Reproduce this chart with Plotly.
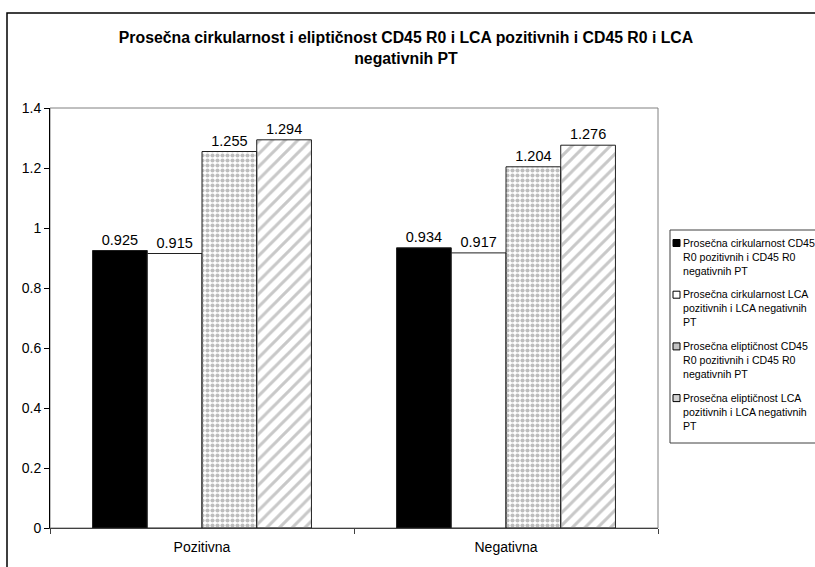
import plotly.graph_objects as go

categories = ["Pozitivna", "Negativna"]
series_names = [
    "Prosečna cirkularnost CD45<br>R0 pozitivnih i CD45 R0<br>negativnih PT",
    "Prosečna cirkularnost LCA<br>pozitivnih i LCA negativnih<br>PT",
    "Prosečna eliptičnost CD45<br>R0 pozitivnih i CD45 R0<br>negativnih PT",
    "Prosečna eliptičnost LCA<br>pozitivnih i LCA negativnih<br>PT",
]
circ_cd45 = [0.925, 0.934]
circ_lca = [0.915, 0.917]
elip_cd45 = [1.255, 1.204]
elip_lca = [1.294, 1.276]
series_values = [circ_cd45, circ_lca, elip_cd45, elip_lca]
y_ticks = [0, 0.2, 0.4, 0.6, 0.8, 1, 1.2, 1.4]
y_tick_labels = ["0", "0.2", "0.4", "0.6", "0.8", "1", "1.2", "1.4"]
title_text = ("Prosečna cirkularnost i eliptičnost CD45 R0 i LCA pozitivnih i CD45 R0 i LCA"
              "<br>negativnih PT")

styles = [
    dict(color="#000000", swatch="#000000", pattern=dict(shape="")),
    dict(color="#ffffff", swatch="#ffffff", pattern=dict(shape="")),
    dict(color="#ffffff", swatch="#c4c4c4",
         pattern=dict(shape=".", fgcolor="#bdbdbd", size=5, solidity=0.55, fillmode="replace")),
    dict(color="#ffffff", swatch="#d2d2d2",
         pattern=dict(shape="/", fgcolor="#c8c8c8", size=9, solidity=0.33, fillmode="replace")),
]

fig = go.Figure()
for i, (name, vals) in enumerate(zip(series_names, series_values)):
    st = styles[i]
    fig.add_trace(go.Bar(
        x=categories, y=vals, name=name.replace("<br>", " "),
        text=[f"{v:.3f}" for v in vals],
        textposition="outside",
        textfont=dict(size=14.5, color="#000000", family="Liberation Sans, Arial"),
        cliponaxis=False,
        showlegend=False,
        marker=dict(color=st["color"], line=dict(color="#202020", width=1),
                    pattern=st["pattern"]),
    ))

W, H = 815, 567
L, R, T, B = 50, 157, 108, 39
pw, ph = W - L - R, H - T - B

def px(x):
    return (x - L) / pw

def py(y):
    return (H - B - y) / ph

fig.update_layout(
    width=W, height=H, autosize=False,
    margin=dict(l=L, r=R, t=T, b=B, autoexpand=False),
    paper_bgcolor="white", plot_bgcolor="white",
    font=dict(family="Liberation Sans, Arial", size=14, color="#000000"),
    barmode="group", bargap=0.28, bargroupgap=0,
    title=dict(text="<b>" + title_text + "</b>", x=406 / W, xref="container", xanchor="center",
               y=1 - 43 / H, yanchor="top", font=dict(size=15.8)),
    showlegend=False,
)
fig.update_yaxes(range=[0, 1.4], tickvals=y_ticks, ticktext=y_tick_labels,
                 showgrid=False, showline=True, linecolor="#000000", linewidth=1,
                 ticks="outside", ticklen=5, tickcolor="#000000",
                 tickfont=dict(size=14), zeroline=False)
fig.update_xaxes(showgrid=False, showline=True, linecolor="#404040", linewidth=1,
                 ticks="outside", ticklen=5, tickcolor="#404040", tickson="boundaries",
                 tickfont=dict(size=14), ticklabelstandoff=6)

# plot area frame (gray) and outer chart border
fig.add_shape(type="rect", xref="paper", yref="paper", x0=0, x1=1, y0=0, y1=1,
              line=dict(color="#808080", width=1), layer="below")
fig.add_shape(type="rect", xref="paper", yref="paper", x0=px(7), x1=px(W + 20),
              y0=py(H + 20), y1=py(13), line=dict(color="#000000", width=1.5),
              layer="below")

# legend (box, swatches, wrapped labels)
fig.add_shape(type="rect", xref="paper", yref="paper", x0=px(670), x1=px(W + 20),
              y0=py(443), y1=py(230), line=dict(color="#404040", width=1),
              fillcolor="white", layer="above")
item_top = 243.0
item_step = 51.7
for i, name in enumerate(series_names):
    yc = item_top + i * item_step
    fig.add_shape(type="rect", xref="paper", yref="paper",
                  x0=px(673), x1=px(680), y0=py(yc + 3.5), y1=py(yc - 3.5),
                  line=dict(color="#000000", width=1), fillcolor=styles[i]["swatch"],
                  layer="above")
    fig.add_annotation(xref="paper", yref="paper", x=px(682), y=py(yc - 7.5),
                       xanchor="left", yanchor="top", align="left", showarrow=False,
                       text=name, font=dict(size=10.6, color="#000000"), borderpad=0)

fig.write_html("out.html", post_script="document.body.style.margin='0px';",
               config={"displayModeBar": False})
